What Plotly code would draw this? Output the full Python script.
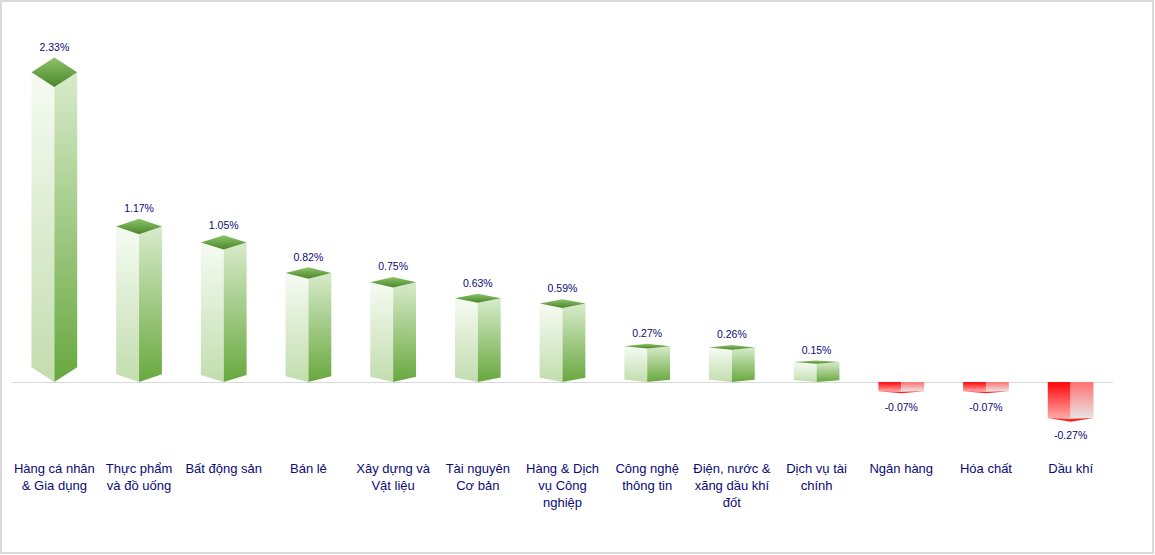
import plotly.graph_objects as go

categories = [
    "Hàng cá nhân<br>& Gia dụng",
    "Thực phẩm<br>và đồ uống",
    "Bất động sản",
    "Bán lẻ",
    "Xây dựng và<br>Vật liệu",
    "Tài nguyên<br>Cơ bản",
    "Hàng & Dịch<br>vụ Công<br>nghiệp",
    "Công nghệ<br>thông tin",
    "Điện, nước &<br>xăng dầu khí<br>đốt",
    "Dịch vụ tài<br>chính",
    "Ngân hàng",
    "Hóa chất",
    "Dầu khí",
]
values = [2.33, 1.17, 1.05, 0.82, 0.75, 0.63, 0.59, 0.27, 0.26, 0.15, -0.07, -0.07, -0.27]

W = 1155
H = 555
ML, MR, MT, MB = 12, 42, 20, 99
Y_RANGE = [-0.556, 2.722]
HALF = 0.27  # half bar width in category units

POS_LEFT = ["#c2ddae", "#f6fbf3"]
POS_RIGHT = ["#68a83e", "#d8ebcb"]
POS_TOP = ["#4b8629", "#8cc46a"]
NEG_LEFT = ["#ffa8a8", "#ff0505"]
NEG_RIGHT = ["#e8e4e4", "#ff7070"]
NEG_BOTTOM = "#ff2020"
LABEL_COLOR = "#0a0a78"
FONT = "Liberation Sans, Arial, sans-serif"

fig = go.Figure()


def depth(v):
    return 0.045 * abs(v) + 0.006


def face(xs, ys, colors):
    lo, hi = min(ys), max(ys)
    fig.add_trace(go.Scatter(
        x=xs, y=ys, mode="lines", fill="toself",
        line=dict(width=0, color="rgba(0,0,0,0)"),
        fillgradient=dict(type="vertical", start=lo, stop=hi,
                          colorscale=[[0, colors[0]], [1, colors[1]]]),
        hoverinfo="skip", showlegend=False,
    ))


for i, v in enumerate(values):
    d = depth(v)
    L, R = i - HALF, i + HALF
    if v >= 0:
        face([L, L, i, i, L], [d, v, v - d, 0, d], POS_LEFT)
        face([i, i, R, R, i], [0, v - d, v, d, 0], POS_RIGHT)
        face([L, i, R, i, L], [v, v + d, v, v - d, v], POS_TOP)
    else:
        face([L, L, i, i, L], [0, v, v, 0, 0], NEG_LEFT)
        face([i, i, R, R, i], [0, v, v, 0, 0], NEG_RIGHT)
        fig.add_trace(go.Scatter(
            x=[L, i, R, i, L], y=[v, v - 0.35 * d, v, v - 1.6 * d, v],
            mode="lines", fill="toself", fillcolor=NEG_BOTTOM,
            line=dict(width=0, color="rgba(0,0,0,0)"),
            hoverinfo="skip", showlegend=False,
        ))

label_y = []
label_pos = []
label_size = []
for v in values:
    d = depth(v)
    label_y.append(v + d if v >= 0 else v - 1.6 * d)
    label_pos.append("top center" if v >= 0 else "bottom center")
    label_size.append(5 if v >= 0 else 14)

fig.add_trace(go.Scatter(
    x=list(range(len(values))), y=label_y,
    mode="markers+text",
    marker=dict(size=label_size, opacity=0),
    text=[f"{v:.2f}%" for v in values],
    textposition=label_pos,
    textfont=dict(family=FONT, size=10.5, color=LABEL_COLOR),
    hovertext=[f"{c.replace('<br>', ' ')}: {v:.2f}%" for c, v in zip(categories, values)],
    hoverinfo="text",
    showlegend=False,
))

pw = W - ML - MR
ph = H - MT - MB
fig.add_shape(
    type="rect", xref="paper", yref="paper",
    x0=(1 - ML) / pw, x1=(W - 2 - ML) / pw,
    y0=(H - MB - (H - 2)) / ph, y1=(H - MB - 1) / ph,
    line=dict(color="#d9d9d9", width=2), fillcolor="rgba(0,0,0,0)", layer="below",
)

fig.update_layout(
    width=W, height=H,
    margin=dict(l=ML, r=MR, t=MT, b=MB),
    paper_bgcolor="white", plot_bgcolor="white",
    showlegend=False,
    xaxis=dict(
        range=[-0.5, len(values) - 0.5],
        tickmode="array", tickvals=list(range(len(values))), ticktext=categories,
        showgrid=False, zeroline=False, showline=False, ticks="",
        ticklabelstandoff=3,
        tickfont=dict(family=FONT, size=13, color=LABEL_COLOR),
        fixedrange=True,
    ),
    yaxis=dict(
        range=Y_RANGE, showgrid=False, showticklabels=False, ticks="",
        zeroline=True, zerolinecolor="#d9d9d9", zerolinewidth=1,
        showline=False, fixedrange=True,
    ),
)

fig.write_html(
    "out.html",
    config={"displayModeBar": False},
    post_script="document.body.style.margin='0';document.body.style.padding='0';",
)
